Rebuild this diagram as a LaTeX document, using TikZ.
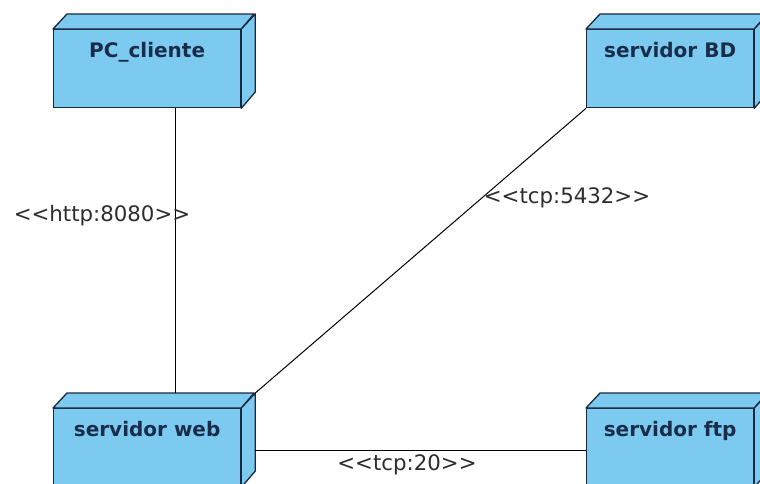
\documentclass[tikz,border=0pt]{standalone}
\usepackage{fontspec}
\setmainfont{DejaVu Sans}
\newfontfamily\lblfont{DejaVu Sans}[Ligatures=TeXOff]
\usetikzlibrary{calc}
\definecolor{nodefill}{RGB}{125,202,240}
\definecolor{nodeline}{RGB}{25,40,60}
\definecolor{nodetext}{RGB}{25,45,75}
\definecolor{labeltext}{RGB}{45,45,45}
\tikzset{
  frontface/.style={draw=nodeline, fill=nodefill, line width=1.3pt, minimum height=78pt, inner sep=0pt, anchor=north west},
  face/.style={draw=nodeline, fill=nodefill, line width=1.3pt, line join=round},
  title/.style={font=\fontsize{20}{24}\selectfont\bfseries, text=nodetext, anchor=base, inner sep=0pt},
  conn/.style={draw=black, line width=1pt},
  lbl/.style={font=\lblfont\fontsize{21.3}{25}\selectfont, text=labeltext, inner sep=0pt}
}
\newcommand\boxnode[5]{%
  \node[frontface, minimum width=#4] (#1) at (#2,#3) {};
  \path[face] (#1.north west) -- ++(14,-15) -- ++(#4,0) -- (#1.north east) -- cycle;
  \path[face] (#1.north east) -- ++(14,-15) -- ++(0,78) -- (#1.south east) -- cycle;
  \node[title] (#1-title) at ($(#1.north)+(0,28)$) {#5};
}
\begin{document}
\begin{tikzpicture}[x=1pt,y=-1pt]
\useasboundingbox (0,0) rectangle (760,483);
\clip (0,0) rectangle (760,483);
\fill[white] (0,0) rectangle (760,483);
\boxnode{pc}{53}{29}{187pt}{PC\_cliente}
\boxnode{bd}{586}{29}{167pt}{servidor BD}
\boxnode{web}{53}{408}{187pt}{servidor web}
\boxnode{ftp}{586}{408}{167pt}{servidor ftp}
\draw[conn] ([xshift=28.5pt]pc.south) -- ([xshift=28.5pt,yshift=15pt]web.north);
\draw[conn] (bd.south west) -- ([xshift=14pt,yshift=15pt]web.north east);
\draw[conn] ([xshift=14pt,yshift=-3pt]web.east) -- ([yshift=-3pt]ftp.west);
\node[lbl] (l1) at (102,216) {<\kern0pt<http:8080>\kern0pt>};
\node[lbl] (l2) at (567,198) {<\kern0pt<tcp:5432>\kern0pt>};
\node[lbl] (l3) at (407,465) {<\kern0pt<tcp:20>\kern0pt>};
\end{tikzpicture}
\end{document}
